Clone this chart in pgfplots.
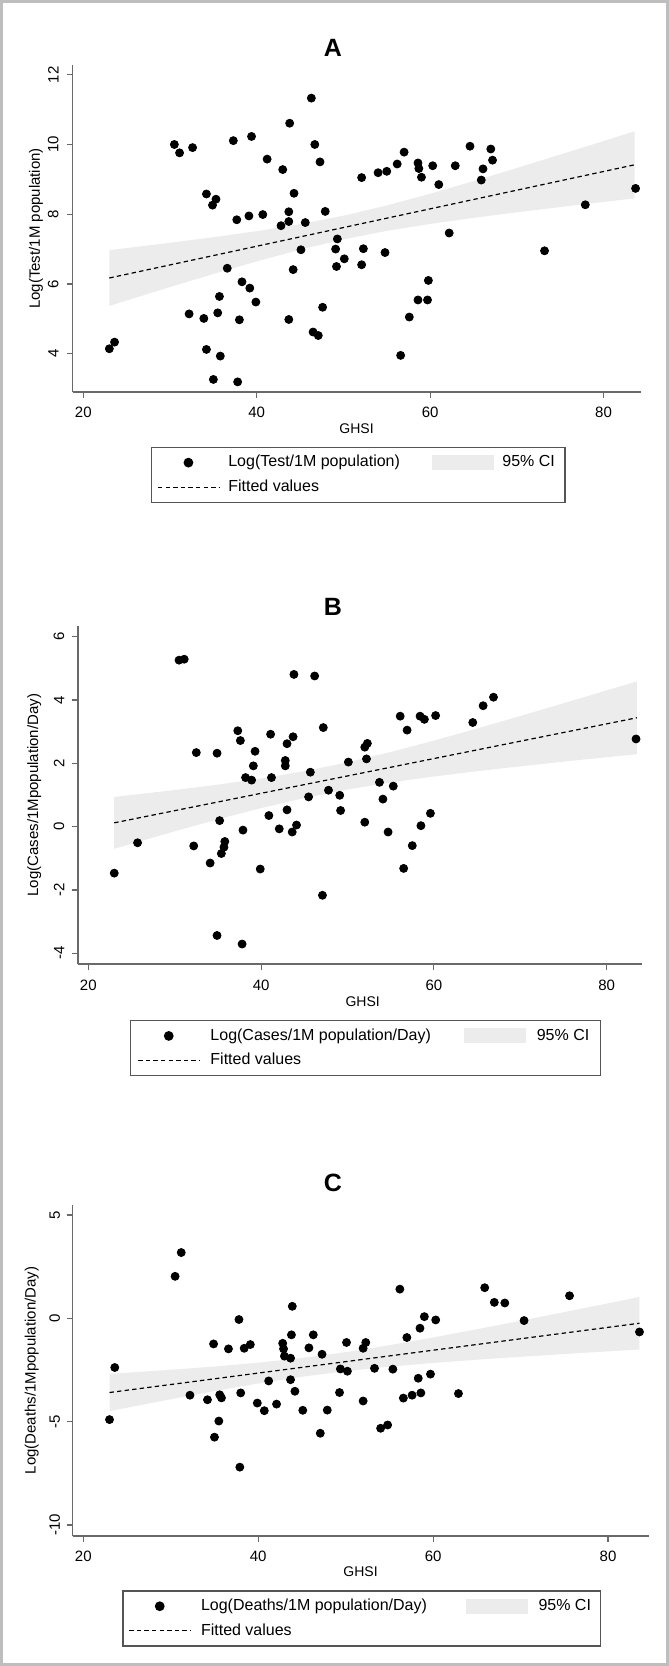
\documentclass[border=0pt]{standalone}
\usepackage{fontspec}
\setmainfont{Liberation Sans}
\usepackage{pgfplots}
\pgfplotsset{compat=1.18}
\definecolor{cigray}{RGB}{236,236,236}
\definecolor{axgray}{RGB}{105,105,105}
\definecolor{leggray}{RGB}{85,85,85}
\definecolor{framegray}{RGB}{190,190,190}

\pgfplotsset{
  stata/.style={
    scale only axis,
    axis x line*=bottom,
    axis y line*=left,
    axis line style={draw=axgray, line width=0.8pt},
    tick align=outside,
    major tick length=3pt,
    tick style={draw=axgray, line width=0.6pt},
    xtick={20,40,60,80},
    xticklabels={20,40,60,80},
    tick label style={font=\fontsize{7.5pt}{9pt}\selectfont},
    xticklabel style={anchor=north, inner xsep=0pt, inner ysep=4.5pt},
    yticklabel style={rotate=90, anchor=south, inner xsep=0pt},
    xlabel={GHSI},
    xlabel style={font=\fontsize{7pt}{8.4pt}\selectfont, anchor=center},
    ylabel style={font=\fontsize{7.5pt}{9pt}\selectfont, anchor=center},
    clip=false,
    legend columns=2,
    legend cell align=left,
    legend style={anchor=north west, draw=leggray, line width=0.65pt,
      font=\fontsize{8pt}{9.6pt}\selectfont, inner ysep=2pt, row sep=1pt},
  },
  scat/.style={only marks, mark=*, mark size=2pt, black, mark options={fill=black, draw=black},
     legend image code/.code={\fill[black] (15.25pt,0pt) circle (2.1pt); \path[draw=none] (0pt,0pt) -- (30.5pt,0pt);}},
  ci/.style={fill=cigray, draw=none,
     legend image code/.code={\fill[cigray] (0pt,-3.75pt) rectangle (31pt,3.75pt);}},
  fit/.style={black, line width=0.6pt, dash pattern=on 2.2pt off 1.6pt, no markers,
     legend image code/.code={\draw[black, line width=0.6pt, dash pattern=on 2.2pt off 1.6pt] (0pt,0pt) -- (30.5pt,0pt);}},
}

\pgfplotstableread{
x y
30.5 10.0
31.1 9.76
32.6 9.91
37.3 10.11
39.4 10.23
41.2 9.58
43.0 9.28
43.8 10.61
46.3 11.33
46.7 10.0
47.3 9.5
44.3 8.6
34.2 8.58
35.3 8.43
34.9 8.26
37.7 7.84
39.1 7.95
40.7 7.99
43.7 8.07
43.7 7.79
42.8 7.67
45.6 7.76
47.9 8.08
52.1 9.05
54.0 9.19
55.0 9.23
56.2 9.44
57.0 9.78
58.6 9.47
58.7 9.31
59.0 9.06
60.3 9.39
61.0 8.85
62.9 9.39
64.6 9.95
67.0 9.87
67.2 9.55
66.1 9.30
65.9 8.98
62.2 7.46
73.2 6.95
77.9 8.27
83.7 8.74
49.1 7.0
52.3 7.01
50.1 6.72
49.2 6.5
52.1 6.55
54.8 6.9
45.1 6.98
49.3 7.29
44.2 6.41
36.6 6.45
38.3 6.06
39.2 5.88
59.8 6.10
35.7 5.64
39.9 5.48
58.6 5.54
59.7 5.54
32.2 5.14
35.5 5.17
33.9 5.01
38.0 4.97
43.7 4.98
47.6 5.33
57.6 5.05
46.5 4.62
47.1 4.52
34.2 4.12
35.8 3.93
56.6 3.95
23.0 4.14
23.6 4.33
35.0 3.26
37.8 3.19
}\dataA

\pgfplotstableread{
x y
30.5 5.26
31.1 5.29
43.8 4.81
46.2 4.76
66.9 4.09
65.7 3.82
64.5 3.29
56.1 3.49
58.4 3.49
58.9 3.39
60.2 3.51
56.9 3.05
47.2 3.13
37.3 3.03
37.6 2.72
41.1 2.92
43.7 2.84
43.0 2.62
32.5 2.34
34.9 2.32
39.3 2.38
52.3 2.63
52.0 2.51
52.2 2.14
42.8 2.09
42.8 1.92
39.1 1.92
50.1 2.04
45.7 1.72
38.2 1.55
38.9 1.47
41.2 1.55
53.7 1.40
55.3 1.28
45.5 0.94
47.8 1.15
49.1 0.99
54.1 0.87
43.0 0.53
49.2 0.51
40.9 0.35
59.6 0.42
52.0 0.14
35.2 0.19
58.5 0.03
44.1 0.05
42.1 -0.07
37.9 -0.11
43.6 -0.17
54.7 -0.17
83.4 2.77
25.7 -0.51
32.2 -0.61
35.8 -0.47
35.7 -0.65
35.4 -0.85
34.1 -1.15
39.9 -1.34
23.0 -1.47
57.5 -0.60
56.5 -1.32
47.1 -2.17
34.9 -3.44
37.8 -3.71
}\dataB

\pgfplotstableread{
x y
30.5 2.03
31.2 3.18
56.2 1.41
65.9 1.48
67.0 0.77
68.2 0.74
75.6 1.09
70.4 -0.11
43.9 0.58
37.8 -0.06
59.0 0.08
60.3 -0.08
58.5 -0.48
57.0 -0.93
83.6 -0.66
43.8 -0.80
46.3 -0.80
34.9 -1.24
36.6 -1.48
38.4 -1.45
39.1 -1.27
42.8 -1.21
42.9 -1.48
45.8 -1.43
50.1 -1.17
52.3 -1.17
52.0 -1.45
47.3 -1.74
43.0 -1.83
43.7 -1.93
23.6 -2.38
49.4 -2.45
50.2 -2.56
53.3 -2.42
55.4 -2.46
58.3 -2.90
59.7 -2.70
43.7 -2.97
41.2 -3.03
32.2 -3.72
34.2 -3.94
35.6 -3.70
35.8 -3.85
38.0 -3.61
44.2 -3.53
49.3 -3.59
39.9 -4.10
40.7 -4.47
42.1 -4.15
45.1 -4.45
47.9 -4.44
52.0 -4.00
56.6 -3.86
57.6 -3.72
58.6 -3.61
62.9 -3.64
23.0 -4.90
35.5 -4.97
54.8 -5.16
54.0 -5.32
47.1 -5.56
35.0 -5.75
37.9 -7.20
}\dataC

\begin{document}
\begin{tikzpicture}
\useasboundingbox (0,0) rectangle (334.5pt,833pt);
\draw[framegray, line width=1.3pt] (0.65pt,0.65pt) rectangle (333.85pt,832.35pt);

% ---------------- Panel A ----------------
\node[font=\bfseries\fontsize{12.5pt}{15pt}\selectfont] at (166.5pt,809pt) {A};
\begin{axis}[stata,
  at={(36.25pt,637pt)}, anchor=south west,
  width=284.1pt, height=163.5pt,
  xmin=18.75, xmax=84.29, ymin=2.90, ymax=12.28,
  ytick={4,6,8,10,12}, yticklabels={4,6,8,10,12},
  yticklabel style={inner ysep=3.8pt},
  ylabel={Log(Test/1M population)},
  ylabel style={at={(axis description cs:-0.0644,0.5)}},
  xlabel style={at={(axis description cs:0.5,-0.111)}},
  legend style={at={(axis description cs:0.1376,-0.1673)}, inner xsep=3pt,
    /tikz/every odd column/.append style={column sep=2.4pt},
    /tikz/every even column/.append style={column sep=13.8pt}},
]
\addplot[scat] table[x=x,y=y] {\dataA};
\addlegendentry{Log(Test/1M population)}
\addplot[ci] coordinates {
 (23,6.97) (30,7.18) (35,7.34) (40,7.513) (45,7.714) (50,7.957) (55,8.25) (60,8.586) (65,8.948) (70,9.325) (77,9.864) (83.6,10.38)
 (83.6,8.455) (77,8.264) (70,8.055) (65,7.894) (60,7.72) (55,7.52) (50,7.277) (45,6.983) (40,6.647) (35,6.286) (30,5.91) (23,5.37)
} -- cycle;
\addlegendentry{95\% CI}
\addplot[fit] coordinates {(23,6.17) (83.6,9.418)};
\addlegendentry{Fitted values}
\end{axis}

% ---------------- Panel B ----------------
\node[font=\bfseries\fontsize{12.5pt}{15pt}\selectfont] at (166.5pt,529.5pt) {B};
\begin{axis}[stata,
  at={(38.85pt,350.85pt)}, anchor=south west,
  width=282.15pt, height=169.15pt,
  xmin=18.77, xmax=84.09, ymin=-4.35, ymax=6.34,
  ytick={-4,-2,0,2,4,6}, yticklabels={-4,-2,0,2,4,6},
  yticklabel style={inner ysep=3.5pt},
  ylabel={Log(Cases/1Mpopulation/Day)},
  ylabel style={at={(axis description cs:-0.0771,0.5)}},
  xlabel style={at={(axis description cs:0.505,-0.1106)}},
  legend style={at={(axis description cs:0.0927,-0.1646)}, inner xsep=3.5pt,
    /tikz/every odd column/.append style={column sep=3.3pt},
    /tikz/every even column/.append style={column sep=14.6pt}},
]
\addplot[scat] table[x=x,y=y] {\dataB};
\addlegendentry{Log(Cases/1M population/Day)}
\addplot[ci] coordinates {
 (23,0.94) (30,1.156) (35,1.327) (40,1.52) (45,1.752) (50,2.031) (55,2.358) (60,2.718) (65,3.10) (70,3.495) (77,4.06) (83.5,4.59)
 (83.5,2.29) (77,2.11) (70,1.905) (65,1.751) (60,1.584) (55,1.396) (50,1.173) (45,0.904) (40,0.586) (35,0.231) (30,-0.148) (23,-0.70)
} -- cycle;
\addlegendentry{95\% CI}
\addplot[fit] coordinates {(23,0.12) (83.5,3.44)};
\addlegendentry{Fitted values}
\end{axis}

% ---------------- Panel C ----------------
\node[font=\bfseries\fontsize{12.5pt}{15pt}\selectfont] at (166.5pt,241.5pt) {C};
\begin{axis}[stata,
  at={(36.35pt,65pt)}, anchor=south west,
  width=287.9pt, height=165.5pt,
  xmin=18.79, xmax=84.63, ymin=-10.53, ymax=5.48,
  ytick={-10,-5,0,5}, yticklabels={-10,-5,0,5},
  yticklabel style={inner ysep=3.2pt},
  ylabel={Log(Deaths/1Mpopulation/Day)},
  ylabel style={at={(axis description cs:-0.0712,0.5)}},
  xlabel style={at={(axis description cs:0.5,-0.108)}},
  legend style={at={(axis description cs:0.0863,-0.164)}, inner xsep=2.8pt,
    /tikz/every odd column/.append style={column sep=3.1pt},
    /tikz/every even column/.append style={column sep=17.7pt}},
]
\addplot[scat] table[x=x,y=y] {\dataC};
\addlegendentry{Log(Deaths/1M population/Day)}
\addplot[ci] coordinates {
 (23,-2.69) (30,-2.491) (35,-2.332) (40,-2.146) (45,-1.919) (50,-1.637) (55,-1.30) (60,-0.927) (65,-0.529) (70,-0.119) (77,0.469) (83.6,1.031)
 (83.6,-1.509) (77,-1.677) (70,-1.863) (65,-2.005) (60,-2.161) (55,-2.34) (50,-2.557) (45,-2.829) (40,-3.154) (35,-3.522) (30,-3.915) (23,-4.49)
} -- cycle;
\addlegendentry{95\% CI}
\addplot[fit] coordinates {(23,-3.59) (83.6,-0.239)};
\addlegendentry{Fitted values}
\end{axis}
\end{tikzpicture}
\end{document}
